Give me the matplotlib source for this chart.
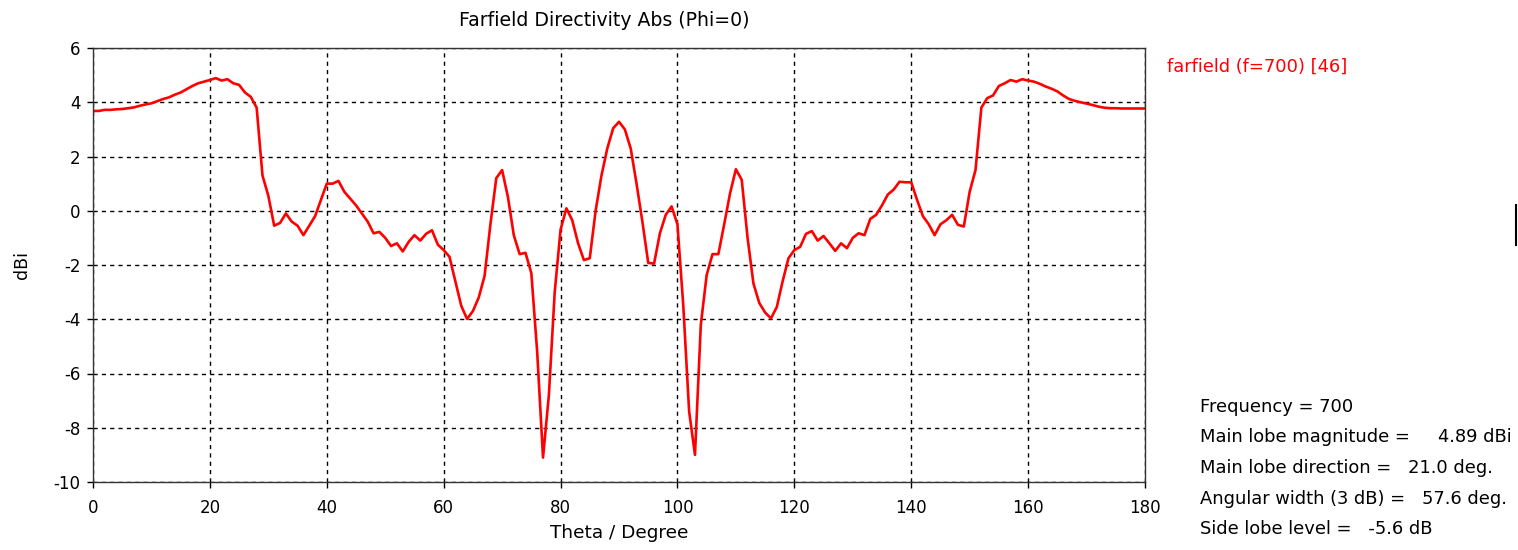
import matplotlib
matplotlib.use("Agg")
import matplotlib.pyplot as plt
from matplotlib.lines import Line2D

theta = list(range(0, 181))
directivity = [
    3.68, 3.68, 3.72, 3.72, 3.74, 3.75, 3.78, 3.81, 3.87, 3.92,
    3.96, 4.04, 4.12, 4.18, 4.28, 4.36, 4.48, 4.60, 4.70, 4.76,
    4.82, 4.89, 4.80, 4.85, 4.70, 4.64, 4.36, 4.20, 3.80, 1.30,
    0.55, -0.55, -0.45, -0.10, -0.40, -0.55, -0.90, -0.55, -0.20, 0.40,
    1.00, 1.00, 1.10, 0.70, 0.45, 0.20, -0.10, -0.40, -0.83, -0.78,
    -1.00, -1.30, -1.20, -1.50, -1.15, -0.90, -1.10, -0.85, -0.72, -1.25,
    -1.45, -1.70, -2.60, -3.50, -3.99, -3.70, -3.20, -2.40, -0.50, 1.20,
    1.50, 0.50, -0.90, -1.60, -1.55, -2.30, -5.20, -9.10, -6.80, -3.00,
    -0.70, 0.09, -0.35, -1.20, -1.82, -1.75, 0.00, 1.30, 2.30, 3.04,
    3.28, 3.00, 2.30, 1.00, -0.40, -1.92, -1.95, -0.83, -0.15, 0.16,
    -0.50, -3.50, -7.40, -9.00, -4.20, -2.37, -1.60, -1.60, -0.50, 0.64,
    1.53, 1.14, -1.00, -2.68, -3.40, -3.75, -3.97, -3.55, -2.60, -1.75,
    -1.45, -1.33, -0.85, -0.75, -1.10, -0.93, -1.20, -1.48, -1.20, -1.38,
    -1.00, -0.83, -0.90, -0.30, -0.15, 0.20, 0.60, 0.78, 1.07, 1.05,
    1.05, 0.40, -0.20, -0.50, -0.90, -0.50, -0.35, -0.15, -0.52, -0.58,
    0.70, 1.50, 3.80, 4.15, 4.25, 4.60, 4.70, 4.82, 4.76, 4.85,
    4.80, 4.76, 4.68, 4.58, 4.50, 4.40, 4.25, 4.12, 4.05, 4.00,
    3.95, 3.90, 3.84, 3.80, 3.78, 3.78, 3.77, 3.77, 3.77, 3.77,
    3.77,
]
x_ticks = [0, 20, 40, 60, 80, 100, 120, 140, 160, 180]
y_ticks = [-10, -8, -6, -4, -2, 0, 2, 4, 6]
title = "Farfield Directivity Abs (Phi=0)"
legend_label = "farfield (f=700) [46]"
info_lines = [
    "Frequency = 700",
    "Main lobe magnitude =     4.89 dBi",
    "Main lobe direction =   21.0 deg.",
    "Angular width (3 dB) =   57.6 deg.",
    "Side lobe level =   -5.6 dB",
]

plt.rcParams['font.family'] = ['DejaVu Sans']
plt.rcParams['axes.unicode_minus'] = False
W, H = 1518, 550
fig = plt.figure(figsize=(W / 100, H / 100), dpi=100)
ax = fig.add_axes([93 / W, 1 - 482 / H, (1145 - 93) / W, (482 - 48) / H])

ax.plot(theta, directivity, color='#ff0000', lw=1.9)
ax.set_xlim(0, 180)
ax.set_ylim(-10, 6)
ax.set_xticks(x_ticks)
ax.set_yticks(y_ticks)
ax.tick_params(length=4, width=1, color='black', labelsize=12)
ax.tick_params(axis='x', pad=8.5)
ax.tick_params(axis='y', pad=5)
ax.grid(True, color='black', linestyle=(0, (3, 3)), linewidth=1)
for s in ax.spines.values():
    s.set_color('#333333')
    s.set_linewidth(1)
ax.set_xlabel("Theta / Degree", fontsize=13.3, labelpad=5)
ax.set_ylabel("dBi", fontsize=12.5, labelpad=16)

fig.text(604 / W, 1 - 20 / H, title, ha='center', va='center', fontsize=13.6)
fig.text(1167 / W, 1 - 67 / H, legend_label, ha='left', va='center',
         fontsize=12.9, color='#ff0000')
for i, line in enumerate(info_lines):
    fig.text(1200 / W, 1 - (407 + 30.5 * i) / H, line, ha='left', va='center',
             fontsize=12.9)

fig.add_artist(Line2D([1516 / W, 1516 / W], [1 - 205 / H, 1 - 245 / H],
                      color='black', lw=1.5))

fig.savefig("out.png", dpi=100)
